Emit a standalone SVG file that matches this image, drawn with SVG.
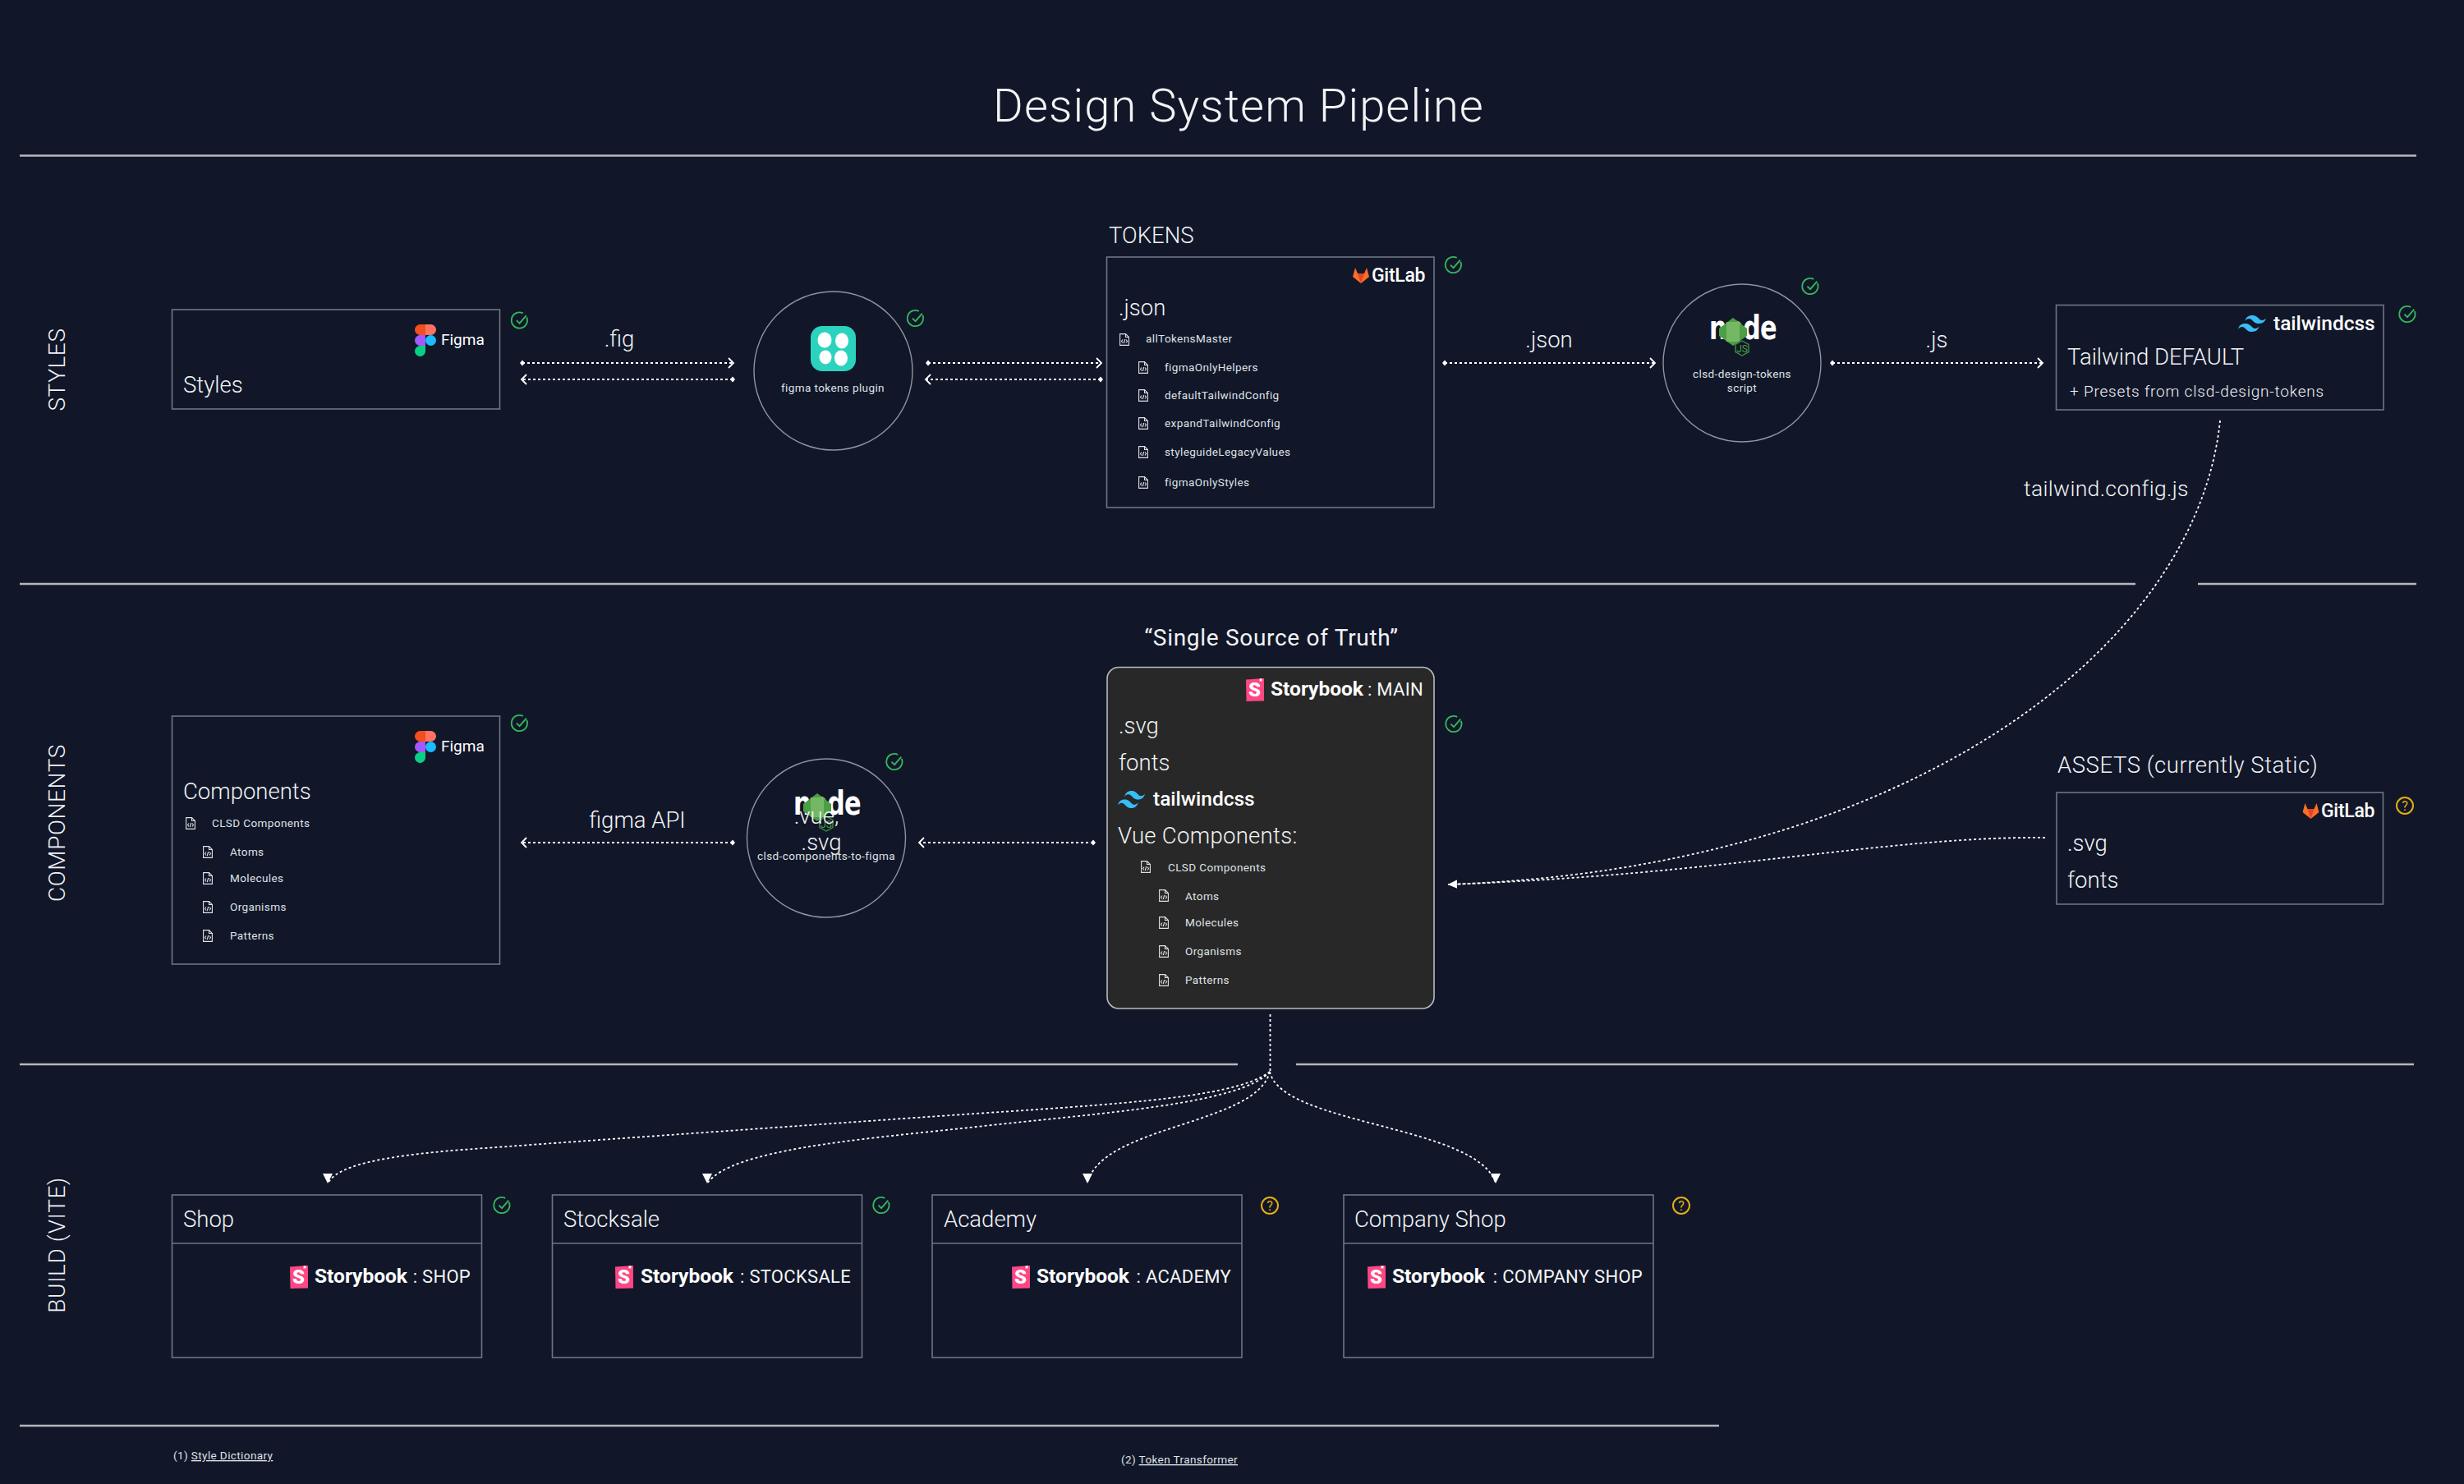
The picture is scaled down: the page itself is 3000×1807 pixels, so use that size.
<svg xmlns="http://www.w3.org/2000/svg" width="3000" height="1807" viewBox="0 0 3000 1807">
<style>
text{font-family:"Roboto","Liberation Sans",sans-serif;fill:#f1f3f5;font-weight:300}
.t{font-size:27.500px}
.sec{font-size:28px;letter-spacing:.6px}
.sm{font-size:13.500px;font-weight:400;letter-spacing:.4px;fill:#dfe2e6}
.mid{text-anchor:middle}
.sub{font-size:19px;letter-spacing:.9px}
.sb{font-size:24.500px;font-weight:700;fill:#fff}
.sbt{font-size:22px;font-weight:400;fill:#f4f5f6;text-anchor:end;letter-spacing:.3px}
.tw{font-size:24.500px;font-weight:500;fill:#fff}
.gl{font-size:23px;font-weight:500;fill:#fff;letter-spacing:-.3px}
.fg{font-size:19px;font-weight:400;fill:#fff}
.box{fill:none;stroke:#6f7583;stroke-width:1.6}
.circ{fill:none;stroke:#8f949e;stroke-width:1.4}
.rule{stroke:#b4b8bd;stroke-width:2.4;fill:none}
.flow{fill:none;stroke:#fff;stroke-width:2;stroke-dasharray:3 3}
.thin{fill:none;stroke:#fff;stroke-width:1.8;stroke-dasharray:3 3}
.ok{fill:none;stroke:#35b85c;stroke-width:2}
.q{fill:none;stroke:#e3ae12;stroke-width:2}
.ic{fill:none;stroke:#dfe2e6;stroke-width:1.1}
.lnk{text-decoration:underline}
</style>
<defs>
<marker id="open" markerWidth="12" markerHeight="16" refX="8" refY="8" orient="auto" markerUnits="userSpaceOnUse"><path d="M3 2L9 8L3 14" fill="none" stroke="#fff" stroke-width="1.800"/></marker>
<marker id="dot" markerWidth="8" markerHeight="8" refX="4" refY="4" orient="auto" markerUnits="userSpaceOnUse"><path d="M4 .5L7 4L4 7.500L1 4z" fill="#fff"/></marker>
<marker id="tri" markerWidth="12" markerHeight="12" refX="11" refY="6" orient="auto" markerUnits="userSpaceOnUse"><path d="M0 1L11 6L0 11z" fill="#fff"/></marker>
<marker id="triDown" markerWidth="14" markerHeight="14" refX="12" refY="7" orient="90" markerUnits="userSpaceOnUse"><path d="M0 1L12 7L0 13z" fill="#fff"/></marker>
<symbol id="figma" viewBox="0 0 26 39"><path fill="#f24e1e" d="M13 0H6.500a6.500 6.500 0 0 0 0 13H13z"/><path fill="#ff7262" d="M13 0h6.500a6.500 6.500 0 0 1 0 13H13z"/><path fill="#a259ff" d="M13 13H6.500a6.500 6.500 0 0 0 0 13H13z"/><circle cx="19.500" cy="19.500" r="6.500" fill="#1abcfe"/><path fill="#0acf83" d="M6.500 26H13v6.500a6.500 6.500 0 0 1-13 0a6.500 6.500 0 0 1 6.500-6.500z"/></symbol>
<symbol id="gitlab" viewBox="0 0 20 19"><path fill="#fc6d26" d="M10 19L0 11L3 0L6 7H14L17 0L20 11z"/><path fill="#e24329" d="M10 19L6 7H14z"/></symbol>
<symbol id="wind" viewBox="0 0 54 32.400" preserveAspectRatio="none"><path fill="#38bdf8" d="M27 0c-7.200 0-11.700 3.600-13.500 10.800 2.700-3.600 5.850-4.950 9.450-4.050 2.054.513 3.522 2.004 5.147 3.653C30.744 13.090 33.808 16.200 40.500 16.200c7.200 0 11.700-3.600 13.500-10.800-2.700 3.600-5.850 4.950-9.450 4.050-2.054-.513-3.522-2.004-5.147-3.653C36.756 3.110 33.692 0 27 0zM13.500 16.200C6.300 16.200 1.800 19.800 0 27c2.700-3.600 5.850-4.950 9.450-4.050 2.054.514 3.522 2.004 5.147 3.653C17.244 29.290 20.308 32.400 27 32.400c7.200 0 11.700-3.600 13.500-10.800-2.700 3.600-5.850 4.950-9.450 4.050-2.054-.513-3.522-2.004-5.147-3.653C23.256 19.310 20.192 16.200 13.500 16.200z"/></symbol>
<symbol id="file" viewBox="0 0 12 15" overflow="visible"><path class="ic" d="M.6.600H7.500L11.400 4.500V14.400H.6z"/><path class="ic" d="M7.500.600V4.500H11.400"/><path class="ic" stroke-width=".8" d="M4 7.500L2.500 9.500L4 11.500M8 7.500L9.500 9.500L8 11.500M6.700 7L5.300 12"/></symbol>
<symbol id="check" viewBox="0 0 24 24" overflow="visible"><path class="ok" d="M20.500 7.500A10.500 10.500 0 1 1 15.500 2.100"/><path class="ok" d="M7 11.500L11 15.500L20 5"/></symbol>
<symbol id="sbk" viewBox="0 0 23 28"><path fill="#ff4785" d="M1 1.500L19 .300L23 0V27.500L1.500 28z"/><path fill="#fff" d="M17.500 .500L20.500 .300L20.300 4L19 3L17.700 4z"/></symbol>
<g id="sb-mark"><use href="#sbk" width="23" height="28"/><text x="11.500" y="22" text-anchor="middle" style="font-size:24px;font-weight:900;fill:#fff">S</text></g>
<g id="doc"><use href="#file" width="12" height="15"/></g>
<g id="check-mark"><use href="#check" x="-11" y="-11" width="22" height="22"/></g>
<g id="q-mark"><circle class="q" r="10"/><text y="6" text-anchor="middle" style="font-size:16px;font-weight:400;fill:#e3ae12">?</text></g>
<g id="node-logo">
<text transform="translate(40 30) scale(.76 1)" text-anchor="middle" style="font-family:'DejaVu Sans',sans-serif;font-weight:700;font-size:40px;fill:#fff;letter-spacing:-1px">node</text>
<path fill="#4c9f42" d="M28 4L45 17V26L28 38L11 26V17z"/><path fill="#74b866" d="M20 9L36 9V33L20 33z"/>
<path fill="none" stroke="#3f8f3a" stroke-width="1.400" d="M39 32L47 36.500V45.500L39 50L31 45.500V36.500z"/>
<text x="39" y="46" text-anchor="middle" style="font-size:12px;font-weight:400;fill:#4c9f42">JS</text>
</g>
</defs>
<rect width="3000" height="1807" fill="#111729"/>
<text id="title" x="1508" y="148" class="mid" style="font-size:56px;letter-spacing:1.150px">Design System Pipeline</text>
<g id="rules">
<path class="rule" d="M24 189.500H2942M24 711H2600M2676 711H2942M24 1296H1507M1578 1296H2939M24 1736H2093"/>
</g>
<g id="sections">
<text class="sec mid" transform="translate(79 450) rotate(-90)">STYLES</text>
<text class="sec mid" transform="translate(79 1002) rotate(-90)">COMPONENTS</text>
<text class="sec mid" transform="translate(79 1516) rotate(-90)">BUILD (VITE)</text>
</g>
<g id="connectors">
<path class="flow" marker-start="url(#dot)" marker-end="url(#open)" d="M636 442H892"/>
<path class="flow" marker-start="url(#dot)" marker-end="url(#open)" d="M892 462H636"/>
<path class="flow" marker-start="url(#dot)" marker-end="url(#open)" d="M1130 442H1340"/>
<path class="flow" marker-start="url(#dot)" marker-end="url(#open)" d="M1340 462H1128"/>
<path class="flow" marker-start="url(#dot)" marker-end="url(#open)" d="M1759 442H2014"/>
<path class="flow" marker-start="url(#dot)" marker-end="url(#open)" d="M2231 442H2486"/>
<path class="flow" marker-start="url(#dot)" marker-end="url(#open)" d="M892 1026H636"/>
<path class="flow" marker-start="url(#dot)" marker-end="url(#open)" d="M1331 1026H1120"/>
<path class="thin" marker-end="url(#tri)" d="M2703 512C2675 790 2320 1058 1763 1077"/>
<path class="thin" marker-end="url(#tri)" d="M2490 1020C2300 1018 2100 1065 1763 1077"/>
<path class="thin" d="M1546.500 1235V1305"/>
<path class="thin" marker-end="url(#triDown)" d="M1546 1305C1500 1340 1340 1345 1100 1362C900 1376 700 1390 563 1400C460 1408 410 1420 399 1441"/>
<path class="thin" marker-end="url(#triDown)" d="M1546 1305C1510 1345 1340 1355 1180 1373C1040 1388 890 1400 861 1441"/>
<path class="thin" marker-end="url(#triDown)" d="M1546 1305C1530 1370 1340 1370 1324 1441"/>
<path class="thin" marker-end="url(#triDown)" d="M1546 1305C1560 1370 1800 1370 1821 1441"/>
</g>
<g id="conn-labels">
<text class="t mid" x="754" y="422">.fig</text>
<text class="t mid" x="1886" y="423">.json</text>
<text class="t mid" x="2358" y="423">.js</text>
<text class="t" x="2464" y="604" style="font-size:26.500px;letter-spacing:.35px">tailwind.config.js</text>
<text class="t mid" x="776" y="1008">figma API</text>
</g>
<g id="node-styles">
<rect class="box" x="209.500" y="377" width="399" height="121"/>
<use href="#figma" x="505" y="395" width="26" height="39"/>
<text class="fg" x="537" y="420">Figma</text>
<text class="t" x="223" y="478">Styles</text>
<use href="#check-mark" x="633.500" y="390.500"/>
</g>
<g id="node-figma-tokens">
<circle class="circ" cx="1014.500" cy="451.500" r="96.500"/>
<rect x="987" y="397" width="55" height="55" rx="14" fill="#2bd3bf"/>
<ellipse cx="1004" cy="414" rx="8.500" ry="9.500" fill="#fff"/><ellipse cx="1025" cy="415" rx="8" ry="9.500" fill="#fff"/><ellipse cx="1005" cy="435" rx="7.500" ry="8.500" fill="#fff"/><ellipse cx="1024" cy="436" rx="8" ry="9.500" fill="#fff"/>
<text class="sm mid" x="1014" y="477">figma tokens plugin</text>
<use href="#check-mark" x="1115.500" y="388"/>
</g>
<g id="node-tokens">
<text class="t" x="1350" y="296">TOKENS</text>
<rect class="box" x="1347.500" y="313" width="398.500" height="305"/>
<use href="#gitlab" x="1647" y="326" width="20" height="19"/>
<text class="gl" x="1670" y="343">GitLab</text>
<text class="t" x="1362" y="384">.json</text>
<use href="#doc" x="1363" y="406"/><text class="sm" x="1395" y="417">allTokensMaster</text>
<use href="#doc" x="1386" y="440"/><text class="sm" x="1418" y="452">figmaOnlyHelpers</text>
<use href="#doc" x="1386" y="474"/><text class="sm" x="1418" y="486">defaultTailwindConfig</text>
<use href="#doc" x="1386" y="508"/><text class="sm" x="1418" y="520">expandTailwindConfig</text>
<use href="#doc" x="1386" y="543"/><text class="sm" x="1418" y="555">styleguideLegacyValues</text>
<use href="#doc" x="1386" y="580"/><text class="sm" x="1418" y="592">figmaOnlyStyles</text>
<use href="#check-mark" x="1770.500" y="323"/>
</g>
<g id="node-design-tokens-script">
<circle class="circ" cx="2121" cy="442" r="96"/>
<use href="#node-logo" x="2082" y="383"/>
<text class="sm mid" x="2121" y="460">clsd-design-tokens</text>
<text class="sm mid" x="2121" y="477">script</text>
<use href="#check-mark" x="2205" y="349"/>
</g>
<g id="node-tailwind">
<rect class="box" x="2503.500" y="371.500" width="398.500" height="127.500"/>
<use href="#wind" x="2725" y="384" width="34" height="20"/>
<text class="tw" x="2768" y="402">tailwindcss</text>
<text class="t" x="2517" y="444">Tailwind DEFAULT</text>
<text class="sub" x="2520" y="483" style="letter-spacing:.8px">+ Presets from clsd-design-tokens</text>
<use href="#check-mark" x="2932" y="383"/>
</g>
<g id="node-components">
<rect class="box" x="209.500" y="872" width="399" height="302"/>
<use href="#figma" x="505" y="890" width="26" height="39"/>
<text class="fg" x="537" y="915">Figma</text>
<text class="t" x="223" y="973">Components</text>
<use href="#doc" x="226" y="995"/><text class="sm" x="258" y="1007">CLSD Components</text>
<use href="#doc" x="247" y="1030"/><text class="sm" x="280" y="1042">Atoms</text>
<use href="#doc" x="247" y="1062"/><text class="sm" x="280" y="1074">Molecules</text>
<use href="#doc" x="247" y="1097"/><text class="sm" x="280" y="1109">Organisms</text>
<use href="#doc" x="247" y="1132"/><text class="sm" x="280" y="1144">Patterns</text>
<use href="#check-mark" x="633.500" y="881"/>
</g>
<g id="node-components-to-figma">
<circle class="circ" cx="1006" cy="1020.500" r="96.500"/>
<use href="#node-logo" x="967" y="962"/>
<text class="t mid" x="994" y="1003">.vue,</text>
<text class="t mid" x="1000" y="1035">.svg</text>
<text class="sm mid" x="1006" y="1047">clsd-components-to-figma</text>
<use href="#check-mark" x="1090" y="928"/>
</g>
<g id="node-storybook-main">
<text class="t mid" x="1548" y="786" style="font-size:28px;font-weight:400;letter-spacing:.7px">“Single Source of Truth”</text>
<rect x="1348" y="812.500" width="398" height="415.500" rx="14" fill="#282828" stroke="#b9bcc0" stroke-width="1.600"/>
<use href="#sb-mark" x="1516" y="826"/>
<text class="sb" x="1547" y="847">Storybook</text>
<text class="sbt" x="1733" y="847">: MAIN</text>
<text class="t" x="1362" y="893">.svg</text>
<text class="t" x="1362" y="938">fonts</text>
<use href="#wind" x="1361" y="963" width="33" height="21"/>
<text class="tw" x="1404" y="981">tailwindcss</text>
<text class="t" x="1361" y="1027" style="letter-spacing:.3px">Vue Components:</text>
<use href="#doc" x="1389" y="1048"/><text class="sm" x="1422" y="1061">CLSD Components</text>
<use href="#doc" x="1411" y="1083"/><text class="sm" x="1443" y="1096">Atoms</text>
<use href="#doc" x="1411" y="1116"/><text class="sm" x="1443" y="1128">Molecules</text>
<use href="#doc" x="1411" y="1151"/><text class="sm" x="1443" y="1163">Organisms</text>
<use href="#doc" x="1411" y="1186"/><text class="sm" x="1443" y="1198">Patterns</text>
<use href="#check-mark" x="1771" y="882"/>
</g>
<g id="node-assets">
<text class="t" x="2505" y="941" style="letter-spacing:.55px">ASSETS (currently Static)</text>
<rect class="box" x="2504" y="965" width="397.500" height="136"/>
<use href="#gitlab" x="2803.500" y="978" width="20" height="19"/>
<text class="gl" x="2826" y="995">GitLab</text>
<text class="t" x="2517" y="1036">.svg</text>
<text class="t" x="2517" y="1081">fonts</text>
<use href="#q-mark" x="2928" y="981"/>
</g>
<g id="node-shop">
<rect class="box" x="209.500" y="1455" width="377" height="198"/><path class="box" d="M209.500 1514H586.500"/>
<text class="t" x="223" y="1494">Shop</text>
<use href="#sb-mark" x="352" y="1541"/>
<text class="sb" x="383" y="1562">Storybook</text>
<text class="sbt" x="573" y="1562">: SHOP</text>
<use href="#check-mark" x="612" y="1468"/>
</g>
<g id="node-stocksale">
<rect class="box" x="672.500" y="1455" width="377" height="198"/><path class="box" d="M672.500 1514H1049.500"/>
<text class="t" x="686" y="1494">Stocksale</text>
<use href="#sb-mark" x="748" y="1541"/>
<text class="sb" x="780" y="1562">Storybook</text>
<text class="sbt" x="1036" y="1562">: STOCKSALE</text>
<use href="#check-mark" x="1074" y="1468"/>
</g>
<g id="node-academy">
<rect class="box" x="1135" y="1455" width="377" height="198"/><path class="box" d="M1135 1514H1512"/>
<text class="t" x="1149" y="1494">Academy</text>
<use href="#sb-mark" x="1231" y="1541"/>
<text class="sb" x="1262" y="1562">Storybook</text>
<text class="sbt" x="1499" y="1562">: ACADEMY</text>
<use href="#q-mark" x="1546" y="1468"/>
</g>
<g id="node-company-shop">
<rect class="box" x="1636" y="1455" width="377" height="198"/><path class="box" d="M1636 1514H2013"/>
<text class="t" x="1649" y="1494">Company Shop</text>
<use href="#sb-mark" x="1664" y="1541"/>
<text class="sb" x="1695" y="1562">Storybook</text>
<text class="sbt" x="2000" y="1562">: COMPANY SHOP</text>
<use href="#q-mark" x="2047" y="1468"/>
</g>
<g id="footnotes">
<text class="sm" x="211" y="1777">(1) <tspan class="lnk">Style Dictionary</tspan></text>
<text class="sm" x="1365" y="1782">(2) <tspan class="lnk">Token Transformer</tspan></text>
</g>
</svg>
